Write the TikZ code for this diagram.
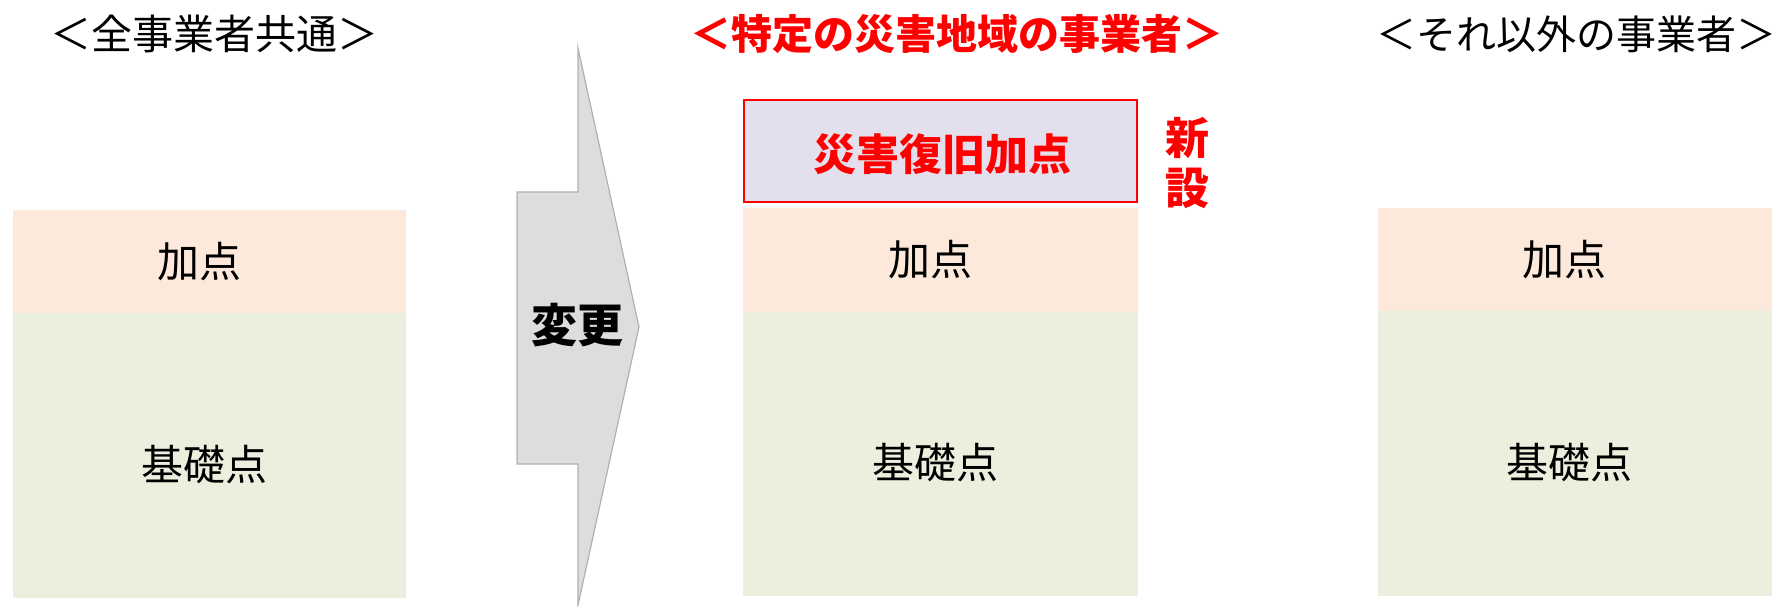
\documentclass[tikz,border=0pt]{standalone}
\usepackage{fontspec}
\setmainfont{Noto Sans CJK JP}
\usetikzlibrary{positioning}

\definecolor{addfill}{HTML}{FCE9DB}
\definecolor{basefill}{HTML}{EBEFDE}
\definecolor{newfill}{HTML}{E4DFEC}
\definecolor{arrowfill}{HTML}{DDDDDD}
\definecolor{arrowline}{HTML}{B0B0B0}
\definecolor{hotred}{HTML}{FF0000}

\tikzset{
    heading/.style={font=\fontsize{41}{43}\selectfont, inner sep=0pt},
    redheading/.style={heading, font=\fontsize{41}{43}\selectfont\bfseries, text=hotred},
    boxlabel/.style={font=\fontsize{42}{44}\selectfont, inner sep=0pt},
    redlabel/.style={font=\fontsize{43}{45}\selectfont\bfseries, text=hotred, inner sep=0pt},
}

\begin{document}
\begin{tikzpicture}[x=1pt,y=-1pt]
    \useasboundingbox (0,0) rectangle (1780,606);

    % Column titles
    \node[heading] (tAll) at (214,34) {＜全事業者共通＞};
    \node[redheading] (tDisaster) at (957,34) {＜特定の災害地域の事業者＞};
    \node[heading, font=\fontsize{40}{42}\selectfont] (tOther) at (1576,34) {＜それ以外の事業者＞};

    % Left column: all businesses
    \fill[addfill] (13,210) rectangle (406,313);
    \fill[basefill] (13,313) rectangle (406,598);
    \node[boxlabel] (addL) at (199,262) {加点};
    \node[boxlabel] (baseL) at (204,465) {基礎点};

    % The change arrow
    \draw[fill=arrowfill, draw=arrowline, line width=1.2pt, line join=miter]
        (578,48) -- (639,327) -- (578,605) -- (578,464) -- (517,464)
        -- (517,192) -- (578,192) -- cycle;
    \node[font=\fontsize{46}{48}\selectfont\bfseries, inner sep=0pt] (change) at (577,325) {変更};

    % Middle column: businesses in the disaster area
    \draw[fill=newfill, draw=hotred, line width=1.5pt] (744,100) rectangle (1137,202);
    \node[redlabel] (newAdd) at (942,154) {災害復旧加点};
    \node[font=\fontsize{44}{50}\selectfont\bfseries, text=hotred, align=center, inner sep=0pt]
        (newMark) at (1187,163) {新\\設};
    \fill[addfill] (743,208) rectangle (1138,312);
    \fill[basefill] (743,312) rectangle (1138,596);
    \node[boxlabel] (addM) at (930,260) {加点};
    \node[boxlabel] (baseM) at (935,463) {基礎点};

    % Right column: other businesses
    \fill[addfill] (1378,208) rectangle (1772,311);
    \fill[basefill] (1378,311) rectangle (1772,596);
    \node[boxlabel] (addR) at (1564,260) {加点};
    \node[boxlabel] (baseR) at (1569,463) {基礎点};

\end{tikzpicture}
\end{document}
